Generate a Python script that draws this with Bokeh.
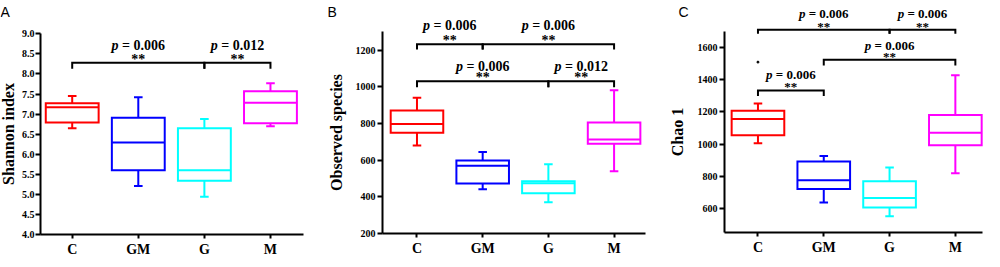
from bokeh.plotting import figure
from bokeh.models import ColumnDataSource, FixedTicker, NumeralTickFormatter
from bokeh.layouts import row
from bokeh.embed import file_html
from bokeh.resources import INLINE
from bokeh.core.properties import value

# ---------------- data ----------------
categories = ["C", "GM", "G", "M"]
colors = ["#FF0000", "#0000FF", "#00FFFF", "#FF00FF"]
xpos = [1, 2, 3, 4]

# Panel A: Shannon index
shannon_whi = [7.45, 7.42, 6.88, 7.77]
shannon_q3 = [7.27, 6.91, 6.65, 7.57]
shannon_med = [7.17, 6.29, 5.60, 7.28]
shannon_q1 = [6.79, 5.60, 5.34, 6.77]
shannon_wlo = [6.65, 5.21, 4.94, 6.70]
shannon_ticks = [4.0, 4.5, 5.0, 5.5, 6.0, 6.5, 7.0, 7.5, 8.0, 8.5, 9.0]

# Panel B: Observed species
obs_whi = [940, 645, 578, 982]
obs_q3 = [871, 598, 485, 806]
obs_med = [798, 569, 474, 713]
obs_q1 = [749, 473, 420, 689]
obs_wlo = [680, 442, 371, 540]
obs_ticks = [200, 400, 600, 800, 1000, 1200]

# Panel C: Chao 1
chao_whi = [1252, 926, 854, 1427]
chao_q3 = [1206, 891, 769, 1181]
chao_med = [1155, 775, 664, 1070]
chao_q1 = [1054, 720, 606, 992]
chao_wlo = [1004, 637, 551, 819]
chao_outlier_idx = [0]
chao_outlier_val = [1509]
chao_ticks = [600, 800, 1000, 1200, 1400, 1600]

# significance comparisons (group index pairs), bracket heights, p values
A_from = [0, 2]
A_to = [2, 3]
A_bar = [8.28, 8.28]
A_leg = [8.13, 8.13]
A_pval = ["0.006", "0.012"]
A_ptext_y = [8.70, 8.70]
A_star_y = [8.36, 8.36]

B_from = [0, 1, 0, 2]
B_to = [1, 3, 2, 3]
B_bar = [1233, 1233, 1031, 1031]
B_leg = [1204, 1204, 998, 998]
B_pval = ["0.006", "0.006", "0.006", "0.012"]
B_ptext_y = [1337, 1337, 1113, 1113]
B_star_y = [1252, 1252, 1050, 1050]

C_from = [0, 2, 1, 0]
C_to = [2, 3, 3, 1]
C_bar = [1710, 1710, 1524, 1333]
C_leg = [1685, 1685, 1488, 1298]
C_pval = ["0.006", "0.006", "0.006", "0.006"]
C_ptext_y = [1812, 1812, 1615, 1429]
C_star_y = [1732, 1732, 1546, 1355]

# ---------------- drawing ----------------
H = 259
SERIF = "Liberation Serif"
BOX_W = 0.8
CAP_W = 0.13


def make_panel(W, xr, yr, axis_x, xbounds, ybounds, yticks, ylabel, tick_fs,
               lab_standoff, tick_standoff, whi, q3, med, q1, wlo, cfrom, cto, bar, leg,
               pval, ptext_y, star_y, pfs, letter, letter_fx, letter_fy, fmt=None):
    p = figure(width=W, height=H, x_range=xr, y_range=yr, output_backend="svg",
               toolbar_location=None, title=None, min_border_left=0, min_border_right=0,
               min_border_top=0, min_border_bottom=0)
    p.outline_line_color = None
    p.grid.visible = False
    p.background_fill_color = "white"
    p.border_fill_color = "white"

    # axes (placed inside the frame at the axis origin)
    p.yaxis.ticker = FixedTicker(ticks=yticks, minor_ticks=[])
    p.yaxis.bounds = ybounds
    p.yaxis.fixed_location = axis_x
    if fmt is not None:
        p.yaxis.formatter = fmt
    p.xaxis.ticker = FixedTicker(ticks=xpos, minor_ticks=[])
    p.xaxis.bounds = xbounds
    p.xaxis.fixed_location = ybounds[0]
    p.xaxis.major_label_overrides = {x: c for x, c in zip(xpos, categories)}
    for ax in (p.xaxis[0], p.yaxis[0]):
        ax.axis_line_width = 2
        ax.axis_line_color = "black"
        ax.major_tick_line_width = 2
        ax.major_tick_line_color = "black"
        ax.major_tick_in = 0
        ax.minor_tick_in = 0
        ax.minor_tick_out = 0
        ax.major_label_text_font = SERIF
        ax.major_label_text_font_style = "bold"
        ax.major_label_text_color = "black"
    p.yaxis.major_tick_out = 5
    p.yaxis.major_label_text_font_size = f"{tick_fs}px"
    p.yaxis.major_label_standoff = tick_standoff
    p.yaxis.axis_label = ylabel
    p.yaxis.axis_label_text_font = SERIF
    p.yaxis.axis_label_text_font_style = "bold"
    p.yaxis.axis_label_text_font_size = "16px"
    p.yaxis.axis_label_text_color = "black"
    p.yaxis.axis_label_standoff = lab_standoff
    p.xaxis.major_tick_out = 4
    p.xaxis.major_label_standoff = 3
    p.xaxis.major_label_text_font_size = "14px"

    # box plots
    src = ColumnDataSource(dict(
        x=xpos, x0=[x - BOX_W / 2 for x in xpos], x1=[x + BOX_W / 2 for x in xpos],
        c0=[x - CAP_W / 2 for x in xpos], c1=[x + CAP_W / 2 for x in xpos],
        whi=whi, q3=q3, med=med, q1=q1, wlo=wlo, color=colors))
    p.segment(x0="x", y0="q3", x1="x", y1="whi", source=src, line_color="color", line_width=2)
    p.segment(x0="x", y0="q1", x1="x", y1="wlo", source=src, line_color="color", line_width=2)
    p.segment(x0="c0", y0="whi", x1="c1", y1="whi", source=src, line_color="color", line_width=2)
    p.segment(x0="c0", y0="wlo", x1="c1", y1="wlo", source=src, line_color="color", line_width=2)
    p.vbar(x="x", width=BOX_W, top="q3", bottom="q1", source=src, fill_color="white",
           line_color="color", line_width=2, line_join="miter")
    p.segment(x0="x0", y0="med", x1="x1", y1="med", source=src, line_color="color", line_width=2)

    # significance brackets
    xs, ys, mids = [], [], []
    for i, j, b, l in zip(cfrom, cto, bar, leg):
        xa, xb = xpos[i], xpos[j]
        xs.append([xa, xa, xb, xb])
        ys.append([l, b, b, l])
        mids.append((xa + xb) / 2)
    p.multi_line(xs=xs, ys=ys, line_color="black", line_width=2, line_join="miter")

    f = pfs
    tsrc = ColumnDataSource(dict(x=mids, py=ptext_y, sy=star_y,
                                 p=["p"] * len(mids),
                                 rest=["= " + v for v in pval],
                                 stars=["**"] * len(mids)))
    common = dict(source=tsrc, text_font=value(SERIF), text_font_size=value(f"{f}px"),
                  text_color=value("black"), text_baseline=value("alphabetic"))
    p.text(x="x", y="py", text="p", text_align=value("right"),
           text_font_style=value("bold italic"), x_offset=-1.41 * f, **common)
    p.text(x="x", y="py", text="rest", text_align=value("left"),
           text_font_style=value("bold"), x_offset=-1.16 * f, **common)
    p.text(x="x", y="sy", text="stars", text_align=value("center"),
           text_font_style=value("bold"), **common)

    # panel letter (position given in figure pixels, converted to data units)
    x_start, x_end = xr
    y_start, y_end = yr
    lx = x_start + letter_fx / W * (x_end - x_start)
    ly = y_end - letter_fy / H * (y_end - y_start)
    p.text(x=[lx], y=[ly], text=[letter], text_font=value("Liberation Sans"),
           text_font_size=value("14px"), text_baseline=value("top"),
           text_align=value("left"), text_color=value("black"))
    return p


pA = make_panel(327, (-0.085, 4.863), (3.378, 9.83), 0.52, (0.52, 4.50), (4.0, 9.0),
                shannon_ticks, "Shannon index", 10, 2, 1,
                shannon_whi, shannon_q3, shannon_med, shannon_q1, shannon_wlo,
                A_from, A_to, A_bar, A_leg, A_pval, A_ptext_y, A_star_y, 14, "A", 0, 3,
                fmt=NumeralTickFormatter(format="0.0"))

pB = make_panel(335, (-0.362, 4.737), (58.2, 1471), 0.475, (0.475, 4.478), (200, 1300),
                obs_ticks, "Observed species", 10, 8, 2,
                obs_whi, obs_q3, obs_med, obs_q1, obs_wlo,
                B_from, B_to, B_bar, B_leg, B_pval, B_ptext_y, B_star_y, 14, "B", 0, 3)

pC = make_panel(322, (-0.451, 4.443), (282.2, 1892), 0.491, (0.491, 4.412), (450, 1700),
                chao_ticks, "Chao 1", 10, 9, 2,
                chao_whi, chao_q3, chao_med, chao_q1, chao_wlo,
                C_from, C_to, C_bar, C_leg, C_pval, C_ptext_y, C_star_y, 13, "C", 16, 3)
pC.scatter(x=[xpos[i] for i in chao_outlier_idx], y=chao_outlier_val, size=2,
           color="black")

layout = row(pA, pB, pC)
open("out.html", "w").write(file_html(layout, INLINE))
